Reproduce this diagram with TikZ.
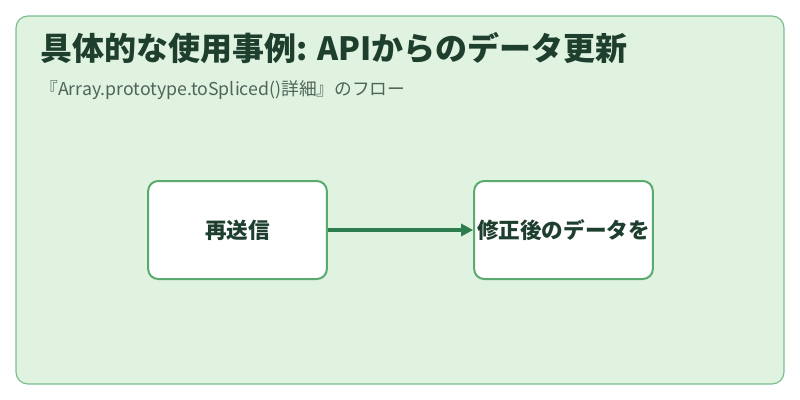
\documentclass[tikz,border=0pt]{standalone}
\usepackage{fontspec}
\setmainfont{Noto Sans CJK JP}
\usetikzlibrary{arrows.meta}
\definecolor{panelbg}{RGB}{224,242,224}
\definecolor{panelline}{RGB}{126,190,140}
\definecolor{boxline}{RGB}{90,170,112}
\definecolor{titlecol}{RGB}{30,62,46}
\definecolor{subcol}{RGB}{80,100,90}
\definecolor{arrowcol}{RGB}{46,125,79}
\begin{document}
\begin{tikzpicture}[x=0.75pt,y=0.75pt,yscale=-1,xscale=1,
  flowbox/.style={draw=boxline,fill=white,line width=1.5pt,rounded corners=7.5pt,
    minimum width=134pt,minimum height=73.5pt,inner sep=0pt,font=\bfseries\fontsize{16.2}{19}\selectfont,text=titlecol}]
\useasboundingbox (0,0) rectangle (800,400);

%Panel
\draw [draw=panelline,fill=panelbg,line width=0.9pt,rounded corners=9pt] (16,16) rectangle (784,384);

% Text Node
\node (title) [anchor=west,inner sep=0pt,text=titlecol,font=\bfseries\fontsize{24}{28}\selectfont] at (40,48) {具体的な使用事例: APIからのデータ更新};
% Text Node
\node (sub) [anchor=west,inner sep=0pt,text=subcol,font=\fontsize{13.3}{16}\selectfont] at (40,90) {『Array.prototype.toSpliced()詳細』のフロー};

%Steps
\node (resend) [flowbox] at (237.5,230) {再送信};
\node (fixed) [flowbox] at (563.5,230) {修正後のデータを};

%Arrow
\draw [arrowcol,line width=2.6pt,-{Triangle[length=9pt,width=9pt]}] (resend) -- (fixed);

\end{tikzpicture}
\end{document}
